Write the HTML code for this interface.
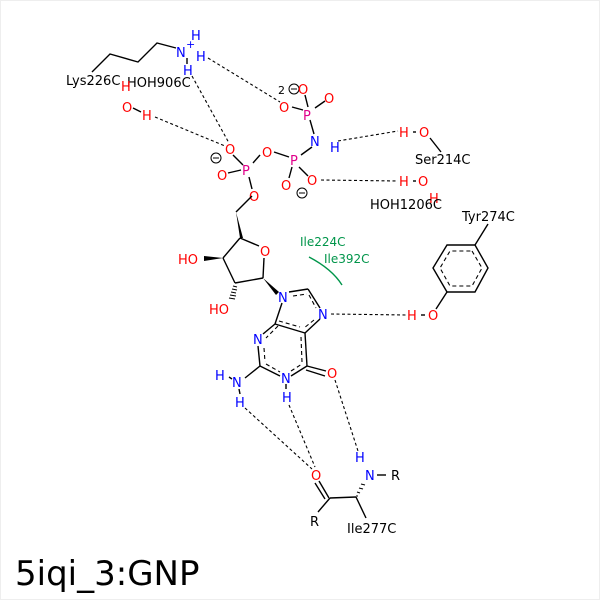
<!DOCTYPE html>
<html><head><style>
html,body{margin:0;padding:0;background:#fff;}
svg{display:block;}
text{font-family:"DejaVu Sans","Liberation Sans",sans-serif;font-size:13px;}
.r{fill:#f00}.b{fill:#00f}.m{fill:#e0008a}.k{fill:#000}.g{fill:#00954a}
.bd{stroke:#000;stroke-width:1.4;fill:none}
.hb{stroke:#000;stroke-width:1.1;stroke-dasharray:3,2.5;fill:none}
.ar{stroke:#000;stroke-width:1.1;stroke-dasharray:4,3;fill:none}
</style></head><body>
<svg width="600" height="600" viewBox="0 0 600 600" xmlns="http://www.w3.org/2000/svg">
<rect x="0.5" y="0.5" width="599" height="599" fill="#fff" stroke="#eee"/>
<!-- Lys chain -->
<polyline class="bd" points="92,72 110,54 138,62 157,43 176,48"/>
<text x="66" y="85" class="k">Lys226C</text>
<text x="176" y="57" class="b">N</text><text x="186" y="48" class="b" style="font-size:11px">+</text>
<text x="191" y="40" class="b">H</text><text x="196" y="61" class="b">H</text>
<text x="183" y="75" class="b">H</text>
<line class="bd" x1="187" y1="58" x2="187" y2="64"/>
<!-- HOH906C -->
<text x="127" y="87" class="k">HOH906C</text>
<text x="121" y="91" class="r">H</text>
<text x="122" y="112" class="r">O</text>
<text x="142" y="120" class="r">H</text>
<line class="bd" x1="133" y1="108" x2="141" y2="112"/>
<!-- phosphates -->
<text x="278" y="94" class="k" style="font-size:11px">2</text>
<circle cx="294" cy="89" r="5" fill="none" stroke="#000" stroke-width="1"/><line x1="291" y1="89" x2="297" y2="89" stroke="#000"/>
<text x="298" y="94" class="r">O</text>
<text x="324" y="103" class="r">O</text>
<text x="279" y="112" class="r">O</text>
<text x="303" y="120" class="m">P</text>
<line class="bd" x1="305" y1="95" x2="308" y2="107"/>
<line class="bd" x1="315" y1="108" x2="325" y2="101"/>
<line class="bd" x1="292" y1="107" x2="303" y2="110"/>
<line class="bd" x1="310" y1="120" x2="314" y2="134"/>
<text x="310" y="146" class="b">N</text><text x="330" y="152" class="b">H</text>
<line class="bd" x1="312" y1="147" x2="301" y2="155"/>
<text x="290" y="165" class="m">P</text>
<text x="262" y="157" class="r">O</text>
<line class="bd" x1="274" y1="152" x2="289" y2="157"/>
<line class="bd" x1="260" y1="155" x2="253" y2="163"/>
<text x="242" y="175" class="m">P</text>
<text x="225" y="154" class="r">O</text>
<text x="217" y="180" class="r">O</text>
<text x="249" y="201" class="r">O</text>
<line class="bd" x1="233" y1="155" x2="243" y2="165"/>
<line class="bd" x1="228" y1="173" x2="241" y2="170"/>
<line class="bd" x1="249" y1="177" x2="252" y2="189"/>
<circle cx="216" cy="158" r="5" fill="none" stroke="#000" stroke-width="1"/><line x1="213" y1="158" x2="219" y2="158" stroke="#000"/>
<text x="281" y="190" class="r">O</text>
<text x="307" y="185" class="r">O</text>
<line class="bd" x1="292" y1="167" x2="289" y2="178"/>
<line class="bd" x1="299" y1="167" x2="308" y2="176"/>
<circle cx="302" cy="193" r="5" fill="none" stroke="#000" stroke-width="1"/><line x1="299" y1="193" x2="305" y2="193" stroke="#000"/>
<!-- Ser214 -->
<text x="399" y="137" class="r">H</text><text x="419" y="137" class="r">O</text>
<line class="bd" x1="413" y1="132" x2="416" y2="132"/>
<line class="bd" x1="430" y1="138" x2="441" y2="152"/>
<text x="415" y="164" class="k">Ser214C</text>
<!-- HOH1206 -->
<text x="399" y="186" class="r">H</text><text x="418" y="186" class="r">O</text>
<line class="bd" x1="413" y1="181" x2="416" y2="181"/>
<text x="429" y="203" class="r">H</text>
<text x="370" y="209" class="k">HOH1206C</text>
<!-- Tyr -->
<text x="462" y="221" class="k">Tyr274C</text>
<line class="bd" x1="475" y1="245" x2="488" y2="224"/>
<polygon class="bd" points="475,245 488,268 475,292 447,292 433,268 447,245"/>
<polygon class="ar" points="472,251 482,268 472,286 450,286 440,268 450,251"/>
<line class="bd" x1="447" y1="292" x2="436" y2="309"/>
<text x="428" y="320" class="r">O</text><text x="407" y="320" class="r">H</text>
<line class="bd" x1="421" y1="315" x2="425" y2="315"/>
<!-- ribose -->
<polygon points="236,212 240,238 243,238" fill="#000"/>
<line class="bd" x1="236" y1="212" x2="252" y2="196"/>
<line class="bd" x1="240" y1="238" x2="259" y2="246"/>
<text x="260" y="256" class="r">O</text>
<line class="bd" x1="264" y1="258" x2="263" y2="278"/>
<line class="bd" x1="263" y1="278" x2="235" y2="283"/>
<line class="bd" x1="235" y1="283" x2="223" y2="258"/>
<line class="bd" x1="223" y1="258" x2="240" y2="238"/>
<polygon points="223,258 204,256 204,261" fill="#000"/>
<text x="178" y="264" class="r">HO</text>
<g stroke="#000" stroke-width="1"><line x1="233" y1="286" x2="237" y2="287"/><line x1="232" y1="289" x2="237" y2="290"/><line x1="231" y1="292" x2="236" y2="293"/><line x1="230" y1="295" x2="236" y2="296"/><line x1="229" y1="298" x2="235" y2="299"/></g>
<text x="209" y="314" class="r">HO</text>
<polygon points="263,278 279,292 276,295" fill="#000"/>
<!-- purine -->
<text x="278" y="302" class="b">N</text>
<text x="318" y="319" class="b">N</text>
<text x="253" y="344" class="b">N</text>
<text x="281" y="383" class="b">N</text>
<line class="bd" x1="289" y1="292" x2="308" y2="289"/>
<line class="bd" x1="308" y1="289" x2="320" y2="308"/>
<line class="bd" x1="320" y1="319" x2="305" y2="333"/>
<line class="bd" x1="305" y1="333" x2="275" y2="324"/>
<line class="bd" x1="275" y1="324" x2="282" y2="303"/>
<line class="bd" x1="275" y1="324" x2="263" y2="334"/>
<line class="bd" x1="258" y1="346" x2="260" y2="366"/>
<line class="bd" x1="260" y1="366" x2="280" y2="376"/>
<line class="bd" x1="291" y1="376" x2="307" y2="366"/>
<line class="bd" x1="307" y1="366" x2="305" y2="333"/>
<line class="bd" x1="307" y1="366" x2="326" y2="371"/>
<line class="bd" x1="306" y1="370" x2="325" y2="376"/>
<g class="ar"><line x1="293" y1="296" x2="307" y2="294"/><line x1="309" y1="295" x2="316" y2="308"/><line x1="314" y1="320" x2="304" y2="328"/><line x1="279" y1="321" x2="300" y2="327"/><line x1="278" y1="326" x2="266" y2="338"/><line x1="264" y1="348" x2="265" y2="362"/><line x1="266" y1="364" x2="280" y2="372"/><line x1="291" y1="371" x2="302" y2="364"/><line x1="302" y1="362" x2="301" y2="337"/></g>
<text x="327" y="378" class="r">O</text>
<line class="bd" x1="260" y1="366" x2="245" y2="378"/>
<text x="232" y="387" class="b">N</text>
<text x="215" y="380" class="b">H</text>
<text x="235" y="407" class="b">H</text>
<line class="bd" x1="229" y1="377" x2="232" y2="379"/>
<line class="bd" x1="239" y1="389" x2="240" y2="394"/>
<text x="282" y="402" class="b">H</text>
<line class="bd" x1="286" y1="384" x2="286" y2="389"/>
<!-- hydrophobic -->
<path d="M309,257 Q332,269 342,285" stroke="#00954a" stroke-width="1.4" fill="none"/>
<text x="300" y="246" class="g" style="font-size:12px">Ile224C</text>
<text x="324" y="263" class="g" style="font-size:12px">Ile392C</text>
<!-- Ile277 -->
<text x="311" y="480" class="r">O</text>
<line class="bd" x1="319" y1="481" x2="329" y2="498"/>
<line class="bd" x1="315" y1="483" x2="325" y2="499"/>
<line class="bd" x1="330" y1="498" x2="356" y2="497"/>
<line class="bd" x1="330" y1="498" x2="318" y2="512"/>
<text x="310" y="526" class="k">R</text>
<g stroke="#000" stroke-width="1"><line x1="356" y1="496" x2="358" y2="496"/><line x1="357" y1="492" x2="360" y2="493"/><line x1="359" y1="488" x2="363" y2="489"/><line x1="361" y1="484" x2="365" y2="485"/></g>
<line class="bd" x1="356" y1="497" x2="366" y2="518"/>
<text x="365" y="480" class="b">N</text>
<line class="bd" x1="377" y1="475" x2="386" y2="475"/>
<text x="391" y="480" class="k">R</text>
<text x="355" y="462" class="b">H</text>
<text x="347" y="533" class="k">Ile277C</text>
<!-- H-bonds -->
<line class="hb" x1="208" y1="58" x2="280" y2="102"/>
<line class="hb" x1="192" y1="76" x2="229" y2="143"/>
<line class="hb" x1="155" y1="117" x2="225" y2="146"/>
<line class="hb" x1="338" y1="141" x2="398" y2="131"/>
<line class="hb" x1="321" y1="180" x2="398" y2="181"/>
<line class="hb" x1="331" y1="314" x2="406" y2="315"/>
<line class="hb" x1="245" y1="408" x2="312" y2="469"/>
<line class="hb" x1="289" y1="405" x2="315" y2="467"/>
<line class="hb" x1="335" y1="380" x2="358" y2="451"/>
<text x="15" y="585" class="k" style="font-size:34px">5iqi_3:GNP</text>
</svg>
</body></html>
